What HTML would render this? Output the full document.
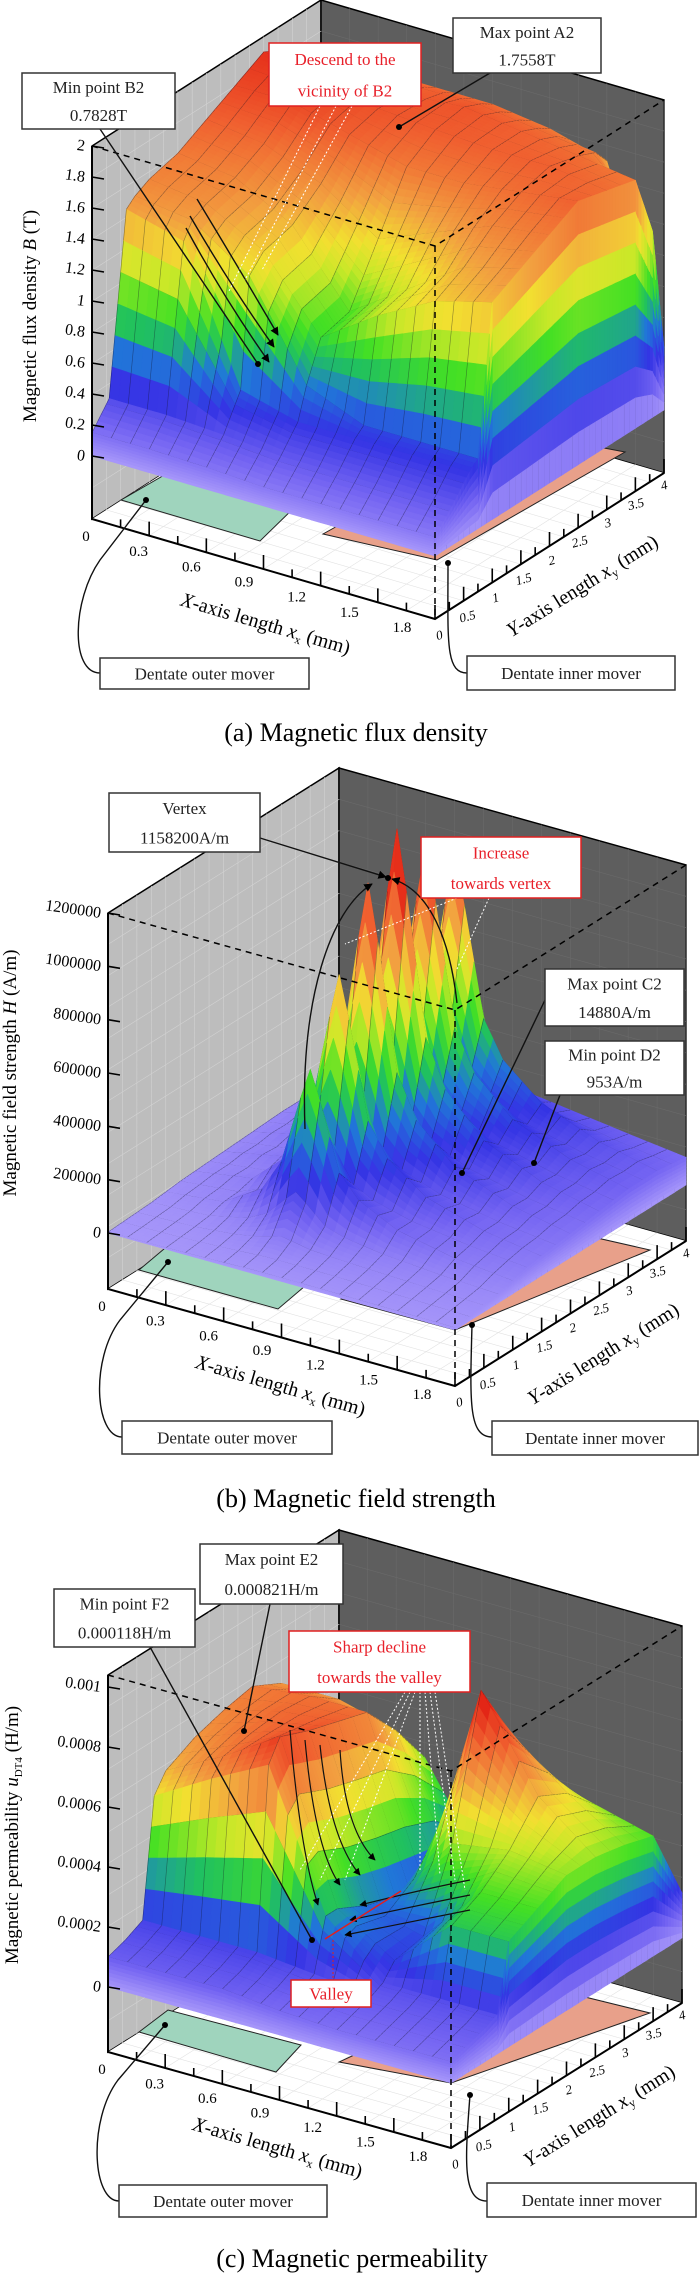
<!DOCTYPE html>
<html><head><meta charset="utf-8"><style>
html,body{margin:0;padding:0;background:#fff;}
svg{display:block;font-family:"Liberation Serif",serif;}
</style></head><body>
<svg id="root" xmlns="http://www.w3.org/2000/svg" width="700" height="2277" viewBox="0 0 700 2277"></svg>
<script>
// ---------- DATA ----------
const xTicks=[0,0.3,0.6,0.9,1.2,1.5,1.8];
const xTickLabels=["0","0.3","0.6","0.9","1.2","1.5","1.8"];
const yTicks=[0,0.5,1,1.5,2,2.5,3,3.5,4];
const yTickLabels=["0","0.5","1","1.5","2","2.5","3","3.5","4"];
// (a) flux density B (T)
const aZTicks=[0,0.2,0.4,0.6,0.8,1,1.2,1.4,1.6,1.8,2];
const aZLabels=["0","0.2","0.4","0.6","0.8","1","1.2","1.4","1.6","1.8","2"];
const aXs=[0,0.3,0.6,0.9,1.2,1.5,1.8];
const aYs=[0,0.3,0.6,0.75,1.0,1.5,2,2.5,3,3.5,3.8,4];
const aB=[
[0.15,0.15,0.14,0.12,0.12,0.12,0.12],
[0.30,0.30,0.28,0.25,0.25,0.25,0.25],
[1.45,1.35,0.50,0.40,0.40,0.40,0.40],
[1.50,1.45,1.20,0.60,0.45,0.45,0.45],
[1.55,1.50,1.30,0.85,1.10,1.30,1.40],
[1.60,1.55,1.35,0.90,1.15,1.40,1.50],
[1.70,1.65,1.50,1.25,1.40,1.55,1.60],
[1.80,1.80,1.70,1.60,1.60,1.65,1.70],
[1.90,1.85,1.75,1.72,1.70,1.70,1.65],
[1.80,1.75,1.72,1.75,1.70,1.65,1.60],
[1.75,1.70,1.70,1.70,1.65,1.60,1.20],
[1.70,1.65,1.65,1.65,1.60,1.50,0.40]];
// (b) field strength H (x1e5 A/m)
const bZTicks=[0,200000,400000,600000,800000,1000000,1200000];
const bZLabels=["0","200000","400000","600000","800000","1000000","1200000"];
const bXs=[0,0.3,0.5,0.6,0.7,0.75,0.8,0.9,1.0,1.2,1.5,1.8];
const bRidgeX=[0,0.02,0.15,0.35,0.8,1,0.8,0.35,0.2,0.08,0.02,0];
const bBaseX=[0.3,0.5,0.8,1,1.2,1.3,1.3,1.3,1.3,1.2,1.0,0.8];
const bYs=[0,0.25,0.5,0.75,1,1.25,1.5,1.75,2,2.25,2.5,2.75,3,3.25,3.5,3.75,4];
const bRidgeY=[0,0,0.3,1.5,5.5,2.5,8,3.5,10.5,4,11.58,4,10,3.5,9,2,0.5];
const bBaseY=[0.1,0.2,0.3,0.4,0.6,0.8,0.9,1,1.1,1.2,1.3,1.4,1.5,1.5,1.5,1.4,1.3];
// (c) permeability (x1e-4 H/m)
const cZTicks=[0,0.0002,0.0004,0.0006,0.0008,0.001];
const cZLabels=["0","0.0002","0.0004","0.0006","0.0008","0.001"];
const cXs=[0,0.3,0.6,0.9,1.2,1.5,1.8];
const cYs=[0,0.3,0.6,0.8,1.0,1.5,2,2.5,3,3.5,4];
const cMu=[
[1.0,1.0,1.0,0.8,0.7,0.7,0.7],
[1.2,1.2,1.2,1.0,0.9,0.9,0.9],
[1.5,1.5,1.5,1.3,1.1,1.1,1.1],
[5.4,6.5,7.5,3.0,1.3,1.3,1.3],
[6.0,7.0,8.2,3.0,1.8,3.5,3.5],
[6.5,7.2,7.8,2.5,2.0,4.0,4.0],
[6.8,7.3,7.5,2.2,4.5,4.8,4.5],
[7.0,7.2,7.2,2.0,9.0,6.0,4.5],
[6.5,6.5,6.0,2.0,7.0,5.5,4.3],
[5.0,5.0,4.5,1.5,5.0,4.5,4.0],
[1.5,1.5,1.3,1.0,2.0,1.8,1.5]];

// ---------- HELPERS ----------
const NS='http://www.w3.org/2000/svg';
const root=document.getElementById('root');
function mk(tag,attrs,parent){const e=document.createElementNS(NS,tag);for(const k in attrs)e.setAttribute(k,attrs[k]);(parent||root).appendChild(e);return e;}
function interp1(xs,vs,x){if(x<=xs[0])return vs[0];for(let i=0;i<xs.length-1;i++){if(x<=xs[i+1]){const t=(x-xs[i])/(xs[i+1]-xs[i]);return vs[i]+(vs[i+1]-vs[i])*t;}}return vs[vs.length-1];}
function bilin(xs,ys,g,x,y){const col=ys.map((_,j)=>interp1(xs,g[j],x));return interp1(ys,col,y);}
const stops=[[0,'#a898fa'],[0.1,'#7464f2'],[0.2,'#3434e4'],[0.3,'#2078d8'],[0.38,'#20c060'],[0.45,'#44e024'],[0.55,'#c8e828'],[0.62,'#f2e030'],[0.72,'#f2a040'],[0.85,'#f06030'],[1,'#e01810']];
function hx(h){return [parseInt(h.substr(1,2),16),parseInt(h.substr(3,2),16),parseInt(h.substr(5,2),16)];}
function cmap(t){t=Math.max(0,Math.min(1,t));for(let i=0;i<stops.length-1;i++){if(t<=stops[i+1][0]){const u=(t-stops[i][0])/(stops[i+1][0]-stops[i][0]);const a=hx(stops[i][1]),b=hx(stops[i+1][1]);return 'rgb('+a.map((v,k)=>Math.round(v+(b[k]-v)*u)).join(',')+')';}}return stops[stops.length-1][1];}

function panel(cfg){
  const g=mk('g',{});
  
  
  const P=(x,y,z)=>[cfg.O[0]+cfg.Ex[0]*x/1.8+cfg.Ey[0]*y/4, cfg.z0y+cfg.Ex[1]*x/1.8+cfg.Ey[1]*y/4-z*cfg.zs];
  const fz=-(cfg.O[1]-cfg.z0y)/cfg.zs;
  const tz=cfg.zTop;
  const pts=a=>a.map(p=>p[0].toFixed(1)+','+p[1].toFixed(1)).join(' ');
  const lw=mk('polygon',{points:pts([P(0,0,fz),P(0,0,tz),P(0,4,tz),P(0,4,fz)]),fill:'#bdbdbd',stroke:'#000','stroke-width':1.5},g);
  
  
  const bw=mk('polygon',{points:pts([P(0,4,fz),P(0,4,tz),P(1.8,4,tz),P(1.8,4,fz)]),fill:'#5e5e5e',stroke:'#000','stroke-width':1.5},g);
  
  
  const fl=mk('polygon',{points:pts([P(0,0,fz),P(1.8,0,fz),P(1.8,4,fz),P(0,4,fz)]),fill:'#ffffff'},g);
  
  
  let gd='';
  for(let y=0.25;y<4;y+=0.25){const a=P(0,y,fz),b=P(0,y,tz);gd+='M'+a+'L'+b;}
  for(let k=1;k<12;k++){const z=fz+(tz-fz)*k/12;const a=P(0,0,z),b=P(0,4,z);gd+='M'+a+'L'+b;}
  const lg=mk('path',{d:gd,stroke:'#d2d2d2','stroke-width':0.6,fill:'none'},g);
  
  
  gd='';
  for(let x=0.15;x<1.8;x+=0.15){const a=P(x,4,fz),b=P(x,4,tz);gd+='M'+a+'L'+b;}
  for(let k=1;k<12;k++){const z=fz+(tz-fz)*k/12;const a=P(0,4,z),b=P(1.8,4,z);gd+='M'+a+'L'+b;}
  const bg=mk('path',{d:gd,stroke:'#6a6a6a','stroke-width':0.6,fill:'none'},g);
  
  
  gd='';
  for(let x=0.15;x<1.8;x+=0.15){gd+='M'+P(x,0,fz)+'L'+P(x,4,fz);}
  for(let y=0.25;y<4;y+=0.25){gd+='M'+P(0,y,fz)+'L'+P(1.8,y,fz);}
  const fg=mk('path',{d:gd,stroke:'#e2e2e2','stroke-width':0.6,fill:'none'},g);
  
  
  const gp=mk('polygon',{points:cfg.green,fill:'#9fd4bd',stroke:'#222','stroke-width':1},g);
  
  
  const sp=mk('polygon',{points:cfg.salmon,fill:'#e8a08a',stroke:'#222','stroke-width':1},g);
  
  
  const nx=36,ny=80,dx=1.8/nx,dy=4/ny;
  const Z=[];for(let j=0;j<=ny;j++){Z[j]=[];for(let i=0;i<=nx;i++)Z[j][i]=cfg.val(i*dx,j*dy);}
  const items=[];
  for(let j=0;j<ny;j++)for(let i=0;i<nx;i++){
    const x0=i*dx,x1=x0+dx,y0=j*dy,y1=y0+dy;
    const q=[P(x0,y0,Z[j][i]),P(x1,y0,Z[j][i+1]),P(x1,y1,Z[j+1][i+1]),P(x0,y1,Z[j+1][i])];
    const zm=(Z[j][i]+Z[j][i+1]+Z[j+1][i+1]+Z[j+1][i])/4;
    let ln='';
    if(i%2==0)ln+='M'+q[0]+'L'+q[3];
    if(j%5==0)ln+='M'+q[0]+'L'+q[1];
    items.push({k:(x0+dx/2)/1.8-(y0+dy/2)/4,q:q,c:cmap(zm/cfg.tmax),ln:ln});
  }
  const nc=8;
  for(let j=0;j<ny;j++){
    const y0=j*dy,y1=y0+dy,za=Z[j][nx],zb=Z[j+1][nx];
    for(let s=0;s<nc;s++){const f0=s/nc,f1=(s+1)/nc;
      const q=[P(1.8,y0,za*f0),P(1.8,y1,zb*f0),P(1.8,y1,zb*f1),P(1.8,y0,za*f1)];
      items.push({k:1-(y0+dy/2)/4+0.02,q:q,c:cmap((za+zb)/2*(f0+f1)/2/cfg.tmax),ln:(j%2==0&&s==0)?'M'+q[0]+'L'+P(1.8,y0,za):''});}
  }
  for(let i=0;i<nx;i++){
    const x0=i*dx,x1=x0+dx,za=Z[0][i],zb=Z[0][i+1];
    for(let s=0;s<nc;s++){const f0=s/nc,f1=(s+1)/nc;
      const q=[P(x0,0,za*f0),P(x1,0,zb*f0),P(x1,0,zb*f1),P(x0,0,za*f1)];
      items.push({k:(x0+dx/2)/1.8+0.02,q:q,c:cmap((za+zb)/2*(f0+f1)/2/cfg.tmax),ln:''});}
  }
  items.sort((a,b)=>a.k-b.k);
  const sg=mk('g',{},g);
  
  
  for(const it of items){
    const p=mk('polygon',{points:pts(it.q),fill:it.c,stroke:it.c,'stroke-width':0.6},sg);
    
    
    if(it.ln){const l=mk('path',{d:it.ln,stroke:'rgba(20,20,40,0.45)','stroke-width':0.6,fill:'none'},sg);
      
      }
  }
  const dd='M'+P(0,0,tz)+'L'+P(1.8,0,tz)+'L'+P(1.8,4,tz)+'M'+P(1.8,0,tz)+'L'+P(1.8,0,fz);
  const de=mk('path',{d:dd,stroke:'#000','stroke-width':1.5,'stroke-dasharray':'6,5',fill:'none'},g);
  
  
  const ax='M'+P(0,0,tz)+'L'+P(0,0,fz)+'L'+P(1.8,0,fz)+'L'+P(1.8,4,fz);
  const axl=mk('path',{d:ax,stroke:'#000','stroke-width':2,fill:'none'},g);
  
  
  let td='';
  for(let x=0;x<=1.8001;x+=0.15){const a=P(x,0,fz);const L=(Math.round(x/0.15)%2==0)?14:8;td+='M'+a+'L'+[a[0],a[1]-L];}
  for(let y=0;y<=4.001;y+=0.25){const a=P(1.8,y,fz);const L=(Math.round(y/0.25)%2==0)?14:8;td+='M'+a+'L'+[a[0],a[1]-L];}
  cfg.zTicks.forEach(v=>{const a=P(0,0,v);td+='M'+a+'L'+[a[0]+12,a[1]+2];});
  const tk=mk('path',{d:td,stroke:'#000','stroke-width':1.6,fill:'none'},g);
  
  
  cfg.zTicks.forEach((v,k)=>{const a=P(0,0,v);
    const t=mk('text',{x:a[0]-7,y:a[1]+5,'text-anchor':'end','font-size':cfg.zfs,transform:'rotate(8 '+(a[0]-7)+' '+a[1]+')'},g);
    t.textContent=cfg.zLabels[k];
    
    });
  xTicks.forEach((v,k)=>{const a=P(v,0,fz);
    const t=mk('text',{x:a[0]-6-15*v,y:a[1]+22-5*v,'text-anchor':'middle','font-size':15},g);
    t.textContent=xTickLabels[k];
    
    });
  yTicks.forEach((v,k)=>{const a=P(1.8,v,fz);
    const t=mk('text',{x:a[0]-0.8*v,y:a[1]+21-1.2*v,'text-anchor':'middle','font-size':13,'font-style':'italic',transform:'rotate(-15 '+a[0]+' '+a[1]+')'},g);
    t.textContent=yTickLabels[k];
    
    });
  return {g:g,P:P};
}
function txt(g,x,y,s,opt,name){const t=mk('text',Object.assign({x:x,y:y,'text-anchor':'middle','font-size':17},opt||{}),g);t.innerHTML=s;
  
  return t;}
function box(g,x0,y0,x1,y1,lines,red,name){const r=mk('rect',{x:x0,y:y0,width:x1-x0,height:y1-y0,fill:'#fff',stroke:red?'#e02020':'#333','stroke-width':1.5},g);
  
  
  const h=(y1-y0)/lines.length;
  lines.forEach((s,i)=>txt(g,(x0+x1)/2,y0+h*(i+0.5)+6,s,{fill:red?'#e8202a':'#222','font-size':17},name+'-text'));}
function line(g,d,opt,name){const p=mk('path',Object.assign({d:d,stroke:'#111','stroke-width':1.4,fill:'none'},opt||{}),g);
  
  return p;}
function dot(g,x,y,name){const c=mk('circle',{cx:x,cy:y,r:3,fill:'#000'},g);
  
  }
const defs=mk('defs',{});
const mkr=mk('marker',{id:'arr',viewBox:'0 0 10 10',refX:9,refY:5,markerWidth:6,markerHeight:6,orient:'auto'},defs);
mk('path',{d:'M0,0L10,5L0,10z',fill:'#000'},mkr);

// ---------- PANEL A ----------
const A=panel({name:'panel-a-flux-density',O:[92,519],Ex:[343,100],Ey:[229,-146],z0y:456,zs:155,zTop:2,tmax:2,
  zTicks:aZTicks,zLabels:aZLabels,zfs:16,
  val:(x,y)=>bilin(aXs,aYs,aB,x,y),
  green:'121,500 260,541 300,502 173,470',salmon:'323,534 437,560 625,452 510,430'});
(function(){const g=A.g;
 txt(g,36,316,'Magnetic flux density <tspan font-style="italic">B</tspan> (T)',{transform:'rotate(-90 36 316)','font-size':19},'z-axis-title');
 txt(g,265,630,'<tspan font-style="italic">X</tspan>-axis length <tspan font-style="italic">x</tspan><tspan font-size="12" dy="4">x</tspan><tspan dy="-4"> (mm)</tspan>',{transform:'rotate(16.3 265 626)','font-size':20},'x-axis-title');
 txt(g,583,592,'<tspan font-style="italic">Y</tspan>-axis length <tspan font-style="italic">x</tspan><tspan font-size="12" dy="4">y</tspan><tspan dy="-4"> (mm)</tspan>',{transform:'rotate(-32 583 587)','font-size':20},'y-axis-title');
 line(g,'M100,129L258,364','', 'min-b2-leader');dot(g,258,364,'min-b2-point');
 line(g,'M490,73L399,127','','max-a2-leader');dot(g,399,127,'max-a2-point');
 line(g,'M197,199Q240,270 278,335',{'marker-end':'url(#arr)'},'descend-arrow');
 line(g,'M190,216Q230,285 274,347',{'marker-end':'url(#arr)'},'descend-arrow');
 line(g,'M186,228Q225,300 269,362',{'marker-end':'url(#arr)'},'descend-arrow');
 line(g,'M320,106L229,291M336,106L245,280M352,106L262,270',{stroke:'#fff','stroke-dasharray':'2,2','stroke-width':1},'descend-guide-lines');
 box(g,22,73,175,129,['Min point B2','0.7828T'],false,'min-b2-annotation');
 box(g,269,43,421,106,['Descend to the','vicinity of B2'],true,'descend-annotation');
 box(g,453,18,601,73,['Max point A2','1.7558T'],false,'max-a2-annotation');
 line(g,'M100,673C70,673 72,600 100,560L146,500','','outer-mover-leader');dot(g,146,500,'outer-mover-point');
 line(g,'M467,673C445,673 448,640 448,563','','inner-mover-leader');dot(g,448,563,'inner-mover-point');
 box(g,100,658,309,689,['Dentate outer mover'],false,'outer-mover-label');
 box(g,467,656,675,690,['Dentate inner mover'],false,'inner-mover-label');
 txt(g,356,741,'(a) Magnetic flux density',{'font-size':26},'caption-a');
})();

// ---------- PANEL B ----------
const B=panel({name:'panel-b-field-strength',O:[108,1289],Ex:[347,97],Ey:[231,-145],z0y:1233,zs:320/1200000,zTop:1200000,tmax:1200000,
  zTicks:bZTicks,zLabels:bZLabels,zfs:16,
  val:(x,y)=>(interp1(bXs,bBaseX,x)*interp1(bYs,bBaseY,y)+interp1(bXs,bRidgeX,x)*interp1(bYs,bRidgeY,y))*1e5,
  green:'139,1270 278,1309 318,1275 177,1238',salmon:'341,1299 455,1330 650,1250 540,1225'});
(function(){const g=B.g;
 txt(g,16,1073,'Magnetic field strength <tspan font-style="italic">H</tspan> (A/m)',{transform:'rotate(-90 16 1073)','font-size':19},'z-axis-title');
 txt(g,280,1392,'<tspan font-style="italic">X</tspan>-axis length <tspan font-style="italic">x</tspan><tspan font-size="12" dy="4">x</tspan><tspan dy="-4"> (mm)</tspan>',{transform:'rotate(16 280 1388)','font-size':20},'x-axis-title');
 txt(g,604,1360,'<tspan font-style="italic">Y</tspan>-axis length <tspan font-style="italic">x</tspan><tspan font-size="12" dy="4">y</tspan><tspan dy="-4"> (mm)</tspan>',{transform:'rotate(-32 604 1355)','font-size':20},'y-axis-title');
 line(g,'M305,1129C300,1000 330,910 372,884',{'marker-end':'url(#arr)'},'increase-arc-left');
 line(g,'M457,1003C450,940 430,890 392,879',{'marker-end':'url(#arr)'},'increase-arc-right');
 line(g,'M260,838L386,877',{'marker-end':'url(#arr)'},'vertex-leader');dot(g,388,878,'vertex-point');
 line(g,'M457,898L345,944M489,898L457,969',{stroke:'#fff','stroke-dasharray':'2,2','stroke-width':1},'increase-guide-lines');
 line(g,'M545,1000L462,1173','','max-c2-leader');dot(g,462,1173,'max-c2-point');
 line(g,'M560,1095L534,1163','','min-d2-leader');dot(g,534,1163,'min-d2-point');
 box(g,109,793,260,852,['Vertex','1158200A/m'],false,'vertex-annotation');
 box(g,421,837,581,898,['Increase','towards vertex'],true,'increase-annotation');
 box(g,545,969,684,1026,['Max point C2','14880A/m'],false,'max-c2-annotation');
 box(g,545,1041,684,1095,['Min point D2','953A/m'],false,'min-d2-annotation');
 line(g,'M122,1437C95,1437 90,1360 120,1320L168,1262','','outer-mover-leader');dot(g,168,1262,'outer-mover-point');
 line(g,'M492,1437C468,1437 470,1400 472,1325','','inner-mover-leader');dot(g,472,1325,'inner-mover-point');
 box(g,122,1421,332,1454,['Dentate outer mover'],false,'outer-mover-label');
 box(g,492,1421,698,1455,['Dentate inner mover'],false,'inner-mover-label');
 txt(g,356,1507,'(b) Magnetic field strength',{'font-size':26},'caption-b');
})();

// ---------- PANEL C ----------
const C=panel({name:'panel-c-permeability',O:[108,2052],Ex:[343,96],Ey:[231,-145],z0y:1987,zs:300000,zTop:0.00104,tmax:0.00088,
  zTicks:cZTicks,zLabels:cZLabels,zfs:16,
  val:(x,y)=>bilin(cXs,cYs,cMu,x,y)*1e-4,
  green:'139,2032 276,2072 301,2045 168,2010',salmon:'339,2062 451,2083 650,2013 516,1980'});
(function(){const g=C.g;
 txt(g,18,1835,'Magnetic permeability <tspan font-style="italic">u</tspan><tspan font-size="11" dy="4">DT4</tspan><tspan dy="-4"> (H/m)</tspan>',{transform:'rotate(-90 18 1835)','font-size':19},'z-axis-title');
 txt(g,277,2154,'<tspan font-style="italic">X</tspan>-axis length <tspan font-style="italic">x</tspan><tspan font-size="12" dy="4">x</tspan><tspan dy="-4"> (mm)</tspan>',{transform:'rotate(16 277 2150)','font-size':20},'x-axis-title');
 txt(g,600,2122,'<tspan font-style="italic">Y</tspan>-axis length <tspan font-style="italic">x</tspan><tspan font-size="12" dy="4">y</tspan><tspan dy="-4"> (mm)</tspan>',{transform:'rotate(-32 600 2117)','font-size':20},'y-axis-title');
 line(g,'M405,1692L300,1870M410,1692L320,1880M415,1692L345,1880M420,1692L420,1870M425,1692L440,1875M430,1692L455,1880M435,1692L465,1890',{stroke:'#fff','stroke-dasharray':'2,2','stroke-width':1},'decline-guide-lines');
 ['M290,1730Q300,1850 318,1905','M305,1740Q315,1850 340,1885','M320,1745Q330,1840 360,1875','M340,1750Q345,1830 375,1860',
  'M470,1880Q420,1890 360,1905','M470,1895Q420,1905 350,1920','M470,1910Q420,1920 345,1935'].forEach(d=>line(g,d,{'marker-end':'url(#arr)','stroke-width':1.2},'decline-arrow'));
 line(g,'M325,1939L401,1891',{stroke:'#e02020','stroke-width':1.5},'valley-line');
 line(g,'M333,1940L333,1980',{stroke:'#e02020','stroke-dasharray':'2,2','stroke-width':1},'valley-pointer');
 line(g,'M270,1604L244,1731','','max-e2-leader');dot(g,244,1731,'max-e2-point');
 line(g,'M150,1647L312,1940','','min-f2-leader');dot(g,312,1940,'min-f2-point');
 box(g,200,1544,343,1604,['Max point E2','0.000821H/m'],false,'max-e2-annotation');
 box(g,54,1589,195,1647,['Min point F2','0.000118H/m'],false,'min-f2-annotation');
 box(g,289,1631,470,1692,['Sharp decline','towards the valley'],true,'decline-annotation');
 box(g,291,1980,371,2007,['Valley'],true,'valley-annotation');
 line(g,'M119,2201C92,2201 88,2120 118,2080L165,2025','','outer-mover-leader');dot(g,165,2025,'outer-mover-point');
 line(g,'M487,2201C462,2201 465,2160 470,2095','','inner-mover-leader');dot(g,470,2095,'inner-mover-point');
 box(g,119,2185,327,2217,['Dentate outer mover'],false,'outer-mover-label');
 box(g,487,2183,696,2217,['Dentate inner mover'],false,'inner-mover-label');
 txt(g,352,2267,'(c) Magnetic permeability',{'font-size':26},'caption-c');
})();
</script>
</body></html>
